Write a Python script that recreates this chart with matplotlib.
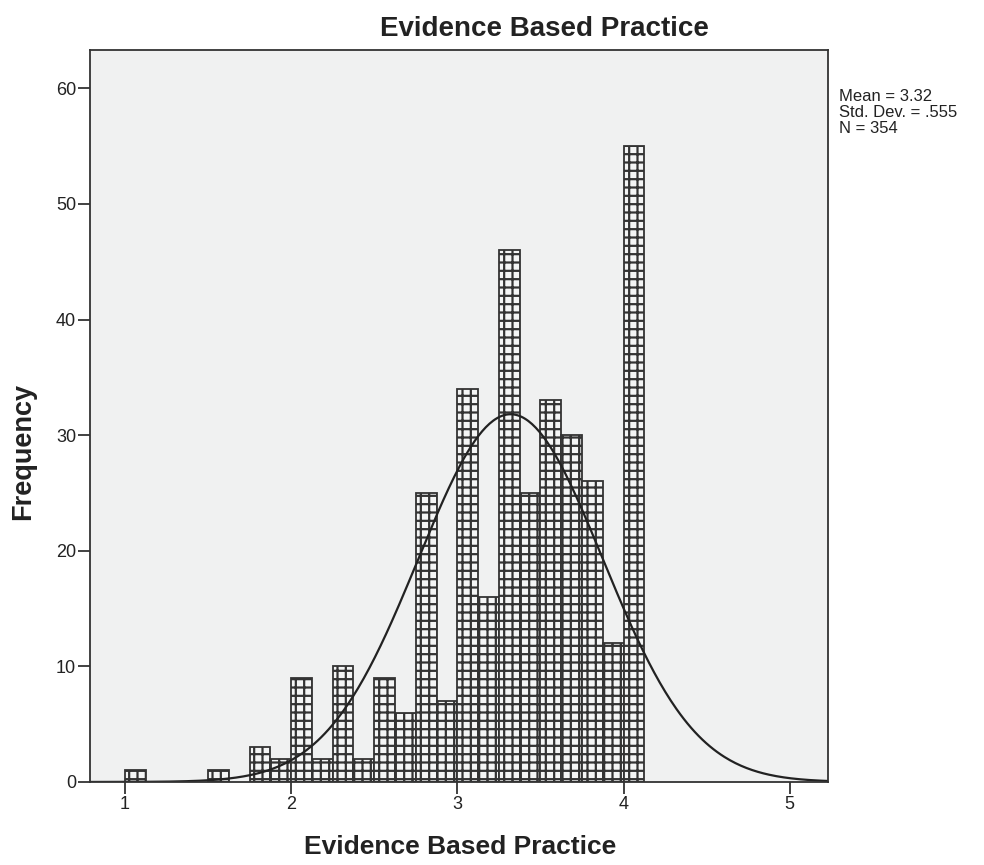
import matplotlib
matplotlib.use("Agg")
import matplotlib.pyplot as plt
import numpy as np

# histogram data (bin width 0.125 starting at 1.0)
bin_start = 1.0
bin_width = 0.125
counts = [1, 0, 0, 0, 1, 0, 3, 2, 9, 2, 10, 2, 9, 6, 25, 7, 34, 16, 46, 25, 33, 30, 26, 12, 55]
mean_val = 3.32
std_val = 0.555
n_total = 354
x_ticks = [1, 2, 3, 4, 5]
y_ticks = [0, 10, 20, 30, 40, 50, 60]

plt.rcParams["font.family"] = ["Liberation Sans", "DejaVu Sans"]
plt.rcParams["hatch.linewidth"] = 1.6
plt.rcParams["hatch.color"] = "#707070"

fig = plt.figure(figsize=(9.84, 8.65), dpi=100)
ax = fig.add_axes([0.0915, 0.096, 0.75, 0.846])
ax.set_facecolor("#f0f1f1")

edges = bin_start + bin_width * np.arange(len(counts))
counts = np.array(counts)
mask = counts > 0
ax.bar(edges[mask], counts[mask], width=bin_width, align="edge",
       facecolor="#f4f5f5", edgecolor="#333333", linewidth=1.3, hatch="++")

xs = np.linspace(0.79, 5.23, 400)
pdf = np.exp(-0.5 * ((xs - mean_val) / std_val) ** 2) / (std_val * np.sqrt(2 * np.pi))
ax.plot(xs, n_total * bin_width * pdf, color="#222222", linewidth=1.6)

ax.set_xlim(0.79, 5.23)
ax.set_ylim(0, 63.3)
ax.set_xticks(x_ticks)
ax.set_yticks(y_ticks)
ax.tick_params(direction="out", length=8.5, width=1.3, labelsize=13, colors="#333333",
               labelcolor="#222222", pad=1.5)
for s in ax.spines.values():
    s.set_linewidth(1.3)
    s.set_color("#333333")

fig.text(0.553, 0.967, "Evidence Based Practice", fontsize=20, fontweight="bold",
         ha="center", va="center", color="#222222")
fig.text(0.468, 0.021, "Evidence Based Practice", fontsize=19, fontweight="bold",
         ha="center", va="center", color="#222222")
fig.text(0.023, 0.478, "Frequency", fontsize=19.5, fontweight="bold", rotation=90,
         ha="center", va="center", color="#222222")

fig.text(0.853, 0.897, f"Mean = {mean_val:.2f}\nStd. Dev. = .555\nN = {n_total}",
         fontsize=12, va="top", ha="left", linespacing=1.1, color="#222222")

fig.savefig("out.png", dpi=100)
